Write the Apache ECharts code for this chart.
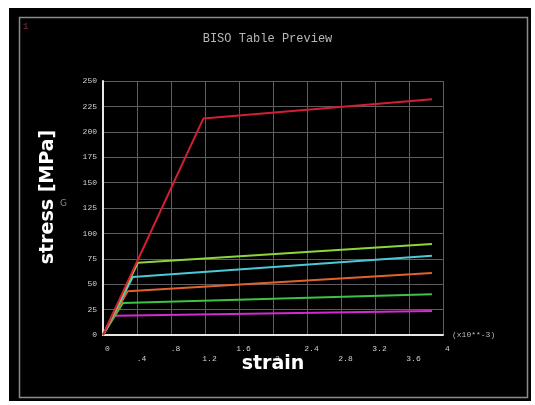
<!DOCTYPE html>
<html>
<head>
<meta charset="utf-8">
<title>BISO Table Preview</title>
<script src="https://cdn.jsdelivr.net/npm/echarts@6/dist/echarts.min.js"></script>
<style>
  html, body { margin: 0; padding: 0; background: #ffffff; }
  #chart { width: 535px; height: 405px; }
</style>
</head>
<body>
<div id="chart"></div>
<script>
// Bilinear isotropic hardening curves: strain (x10^-3) vs stress (MPa)
const curveNames = ['T1', 'T2', 'T3', 'T4', 'T5', 'T6'];
const curveColors = ['#d21f33', '#8ed43c', '#4cc8d8', '#e2622c', '#3cc244', '#d42ad4'];
const strainPoints = [
  [0, 1.18, 3.87],
  [0, 0.41, 3.87],
  [0, 0.35, 3.87],
  [0, 0.29, 3.87],
  [0, 0.235, 3.87],
  [0, 0.13, 3.87]
];
const stressPoints = [
  [0, 213, 232],
  [0, 71, 89.5],
  [0, 57, 78],
  [0, 43, 61],
  [0, 31.5, 40],
  [0, 19, 23.5]
];
const xTickLabels = ['0', '.4', '.8', '1.2', '1.6', '2', '2.4', '2.8', '3.2', '3.6', '4'];
const yTickLabels = ['0', '25', '50', '75', '100', '125', '150', '175', '200', '225', '250'];

const mono = '"Liberation Mono", "DejaVu Sans Mono", monospace';

const series = curveNames.map((name, k) => ({
  name: name,
  type: 'line',
  data: strainPoints[k].map((x, i) => [x, stressPoints[k][i]]),
  showSymbol: false,
  lineStyle: { color: curveColors[k], width: 2 },
  itemStyle: { color: curveColors[k] },
  z: 10 - k
}));

const chart = echarts.init(document.getElementById('chart'), null, { renderer: 'canvas' });
chart.setOption({
  backgroundColor: '#ffffff',
  animation: false,
  title: {
    text: 'BISO Table Preview',
    left: 'center',
    top: 28,
    textStyle: { color: '#b8b8b8', fontFamily: mono, fontSize: 12, fontWeight: 'normal' }
  },
  grid: { left: 103, top: 81, width: 340, height: 254, containLabel: false },
  xAxis: {
    type: 'value',
    min: 0,
    max: 4,
    interval: 0.4,
    name: '(x10**-3)',
    nameLocation: 'end',
    nameGap: 9,
    nameTextStyle: { color: '#b8b8b8', fontFamily: mono, fontSize: 8, verticalAlign: 'middle', padding: [0, 0, 6, 0] },
    axisLine: { show: true, onZero: false, lineStyle: { color: '#e8e8e8', width: 2 } },
    axisTick: { show: false },
    splitLine: { show: true, lineStyle: { color: '#5e5e5e', width: 1 } },
    axisLabel: {
      color: '#d0d0d0',
      fontFamily: mono,
      fontSize: 8,
      lineHeight: 10,
      margin: 9,
      verticalAlign: 'top',
      padding: [0, 0, 0, 9],
      formatter: function (v) {
        const idx = Math.round(v / 0.4);
        const t = xTickLabels[idx] !== undefined ? xTickLabels[idx] : String(v);
        return idx % 2 === 1 ? '\n' + t : t;
      }
    }
  },
  yAxis: {
    type: 'value',
    min: 0,
    max: 250,
    interval: 25,
    axisLine: { show: true, lineStyle: { color: '#e8e8e8', width: 2 } },
    axisTick: { show: false },
    splitLine: { show: true, lineStyle: { color: '#5e5e5e', width: 1 } },
    axisLabel: {
      color: '#d0d0d0',
      fontFamily: mono,
      fontSize: 8,
      margin: 6,
      formatter: function (v) {
        const idx = Math.round(v / 25);
        return yTickLabels[idx] !== undefined ? yTickLabels[idx] : String(v);
      }
    }
  },
  graphic: [
    { type: 'rect', z: -10, silent: true, shape: { x: 9, y: 8, width: 522, height: 393 }, style: { fill: '#000000' } },
    { type: 'rect', z: -9, silent: true, shape: { x: 19.5, y: 17.5, width: 508, height: 380 }, style: { fill: null, stroke: '#8a8a8a', lineWidth: 1.5 } },
    { type: 'text', z: 5, x: 23, y: 22, style: { text: '1', fill: '#6a1f32', font: 'bold 9px ' + mono } },
    { type: 'text', z: 5, x: 48, y: 197, rotation: Math.PI / 2, style: { text: 'stress [MPa]', fill: '#ffffff', font: 'bold 19px "DejaVu Sans"', align: 'center', verticalAlign: 'middle' } },
    { type: 'text', z: 5, x: 60, y: 204, style: { text: 'G', fill: '#8a8a8a', font: '9px "DejaVu Sans"', verticalAlign: 'middle' } },
    { type: 'text', z: 5, x: 273, y: 364, style: { text: 'strain', fill: '#ffffff', font: 'bold 19px "DejaVu Sans"', align: 'center', verticalAlign: 'middle' } }
  ],
  series: series
});
</script>
</body>
</html>
